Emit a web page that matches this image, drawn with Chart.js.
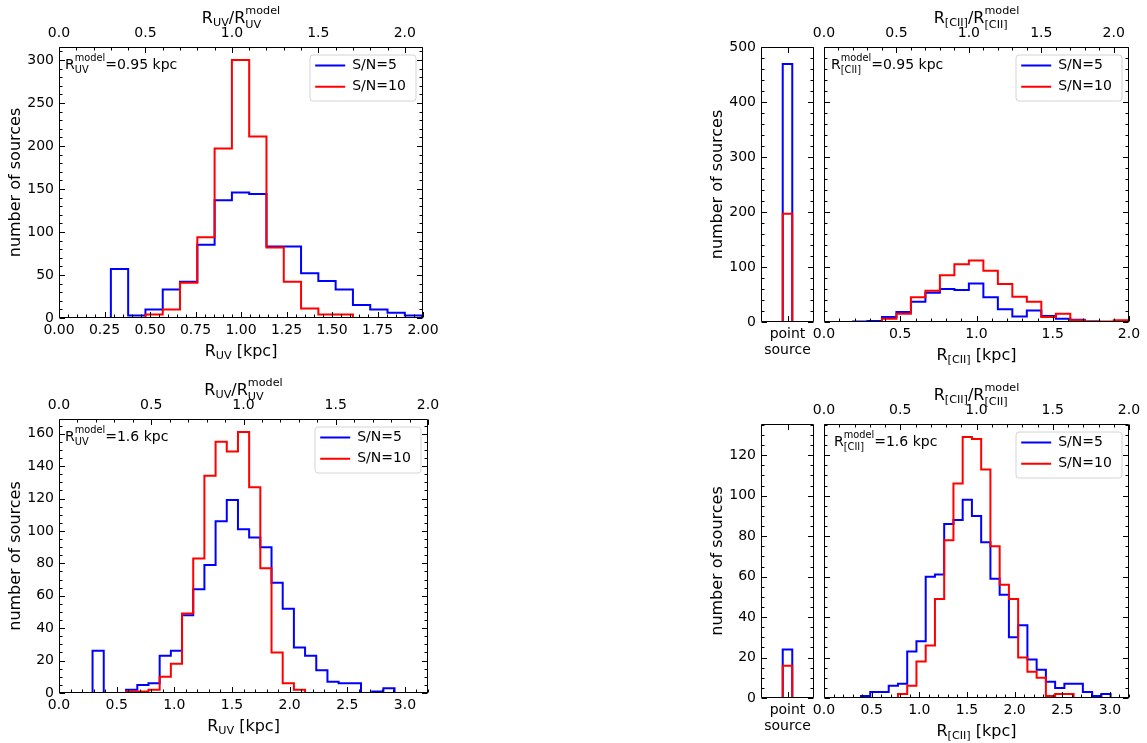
<!DOCTYPE html>
<html>
<head>
<meta charset="utf-8">
<title>Size distributions</title>
<script src="https://cdn.jsdelivr.net/npm/chart.js@4.4.1/dist/chart.umd.min.js"></script>
<style>
  html, body { margin: 0; padding: 0; background: #fff; }
  #fig { position: relative; width: 1147px; height: 743px; overflow: hidden; }
  #fig canvas { position: absolute; }
</style>
</head>
<body>
<div id="fig">
  <canvas id="uv095"></canvas>
  <canvas id="uv16"></canvas>
  <canvas id="ps095"></canvas>
  <canvas id="ps16"></canvas>
  <canvas id="cii095"></canvas>
  <canvas id="cii16"></canvas>
</div>
<script>
// bin edges [kpc]
const edges095 = [0.095, 0.19, 0.285, 0.38, 0.475, 0.57, 0.665, 0.76, 0.855, 0.95, 1.045,
  1.14, 1.235, 1.33, 1.425, 1.52, 1.615, 1.71, 1.805, 1.9, 1.995];
const edges16 = [0, 0.097, 0.194, 0.291, 0.388, 0.485, 0.582, 0.679, 0.776, 0.873, 0.97,
  1.067, 1.164, 1.261, 1.358, 1.455, 1.552, 1.649, 1.746, 1.843, 1.94, 2.037, 2.134, 2.231,
  2.328, 2.425, 2.522, 2.619, 2.716, 2.813, 2.91, 3.007, 3.104, 3.201, 3.298];
const edgesPoint = [0.41, 0.59, 0.76];

// counts per bin, R_model = 0.95 kpc
const uv095_sn5  = [0, 0, 57, 3, 10, 33, 42, 85, 137, 146, 144, 83, 83, 52, 43, 33, 15, 10, 6, 3];
const uv095_sn10 = [0, 0, 0, 0, 4, 10, 41, 94, 197, 300, 211, 82, 42, 11, 4, 4, 0, 0, 0, 0];
const cii095_sn5  = [0, 1, 2, 9, 18, 37, 53, 60, 58, 70, 45, 23, 10, 21, 11, 6, 4, 1, 0, 0];
const cii095_sn10 = [0, 0, 0, 6, 15, 45, 57, 85, 105, 112, 93, 69, 46, 37, 9, 15, 3, 1, 1, 3];
const ps095_sn5  = [469, 0];
const ps095_sn10 = [197, 0];

// counts per bin, R_model = 1.6 kpc
const uv16_sn5  = [0, 0, 0, 26, 0, 0, 2, 5, 6, 23, 26, 48, 64, 79, 106, 119, 101, 96, 90, 68,
  52, 28, 23, 14, 7, 6, 6, 0, 1, 3, 0, 0, 0, 0];
const uv16_sn10 = [0, 0, 0, 0, 0, 0, 1, 1, 2, 10, 18, 49, 83, 134, 155, 149, 161, 127, 77, 25,
  6, 2, 0, 0, 0, 0, 0, 0, 0, 0, 0, 0, 0, 0];
const cii16_sn5  = [0, 0, 0, 1, 3, 3, 6, 7, 23, 28, 60, 61, 86, 88, 98, 90, 77, 59, 51, 30,
  36, 19, 14, 8, 5, 7, 7, 3, 1, 2, 0, 0, 0];
const cii16_sn10 = [0, 0, 0, 0, 0, 0, 0, 2, 6, 18, 26, 49, 78, 106, 129, 128, 113, 75, 56, 49,
  20, 13, 10, 1, 2, 2, 0, 0, 0, 0, 0, 0, 0];
const ps16_sn5  = [24, 0];
const ps16_sn10 = [16, 0];

const seriesLabels = ["S/N=5", "S/N=10"];

Chart.defaults.font.family = "'DejaVu Sans', sans-serif";
Chart.defaults.font.size = 14;
Chart.defaults.color = "#000";

const BLUE = "#0000ff";
const RED = "#ff0000";

// outline of a step histogram
function stepPoints(edges, counts) {
  const pts = [{ x: edges[0], y: 0 }];
  counts.forEach((c, i) => pts.push({ x: edges[i], y: c }));
  pts.push({ x: edges[counts.length], y: 0 });
  return pts;
}

function tickSet(scale, minorStep) {
  const major = scale.ticks.map(t => t.value);
  const minor = [];
  if (minorStep) {
    const k0 = Math.ceil(scale.min / minorStep - 1e-6);
    const k1 = Math.floor(scale.max / minorStep + 1e-6);
    for (let k = k0; k <= k1; k++) {
      const v = k * minorStep;
      if (!major.some(m => Math.abs(m - v) < minorStep / 4)) minor.push(v);
    }
  }
  return { major, minor };
}

// text with sub/superscripts: parts are strings or {sub, sup}
function drawMath(ctx, parts, x, y, size, align) {
  const small = size * 0.7;
  const font = s => s + "px 'DejaVu Sans', sans-serif";
  const widths = parts.map(p => {
    if (typeof p === "string") { ctx.font = font(size); return ctx.measureText(p).width; }
    ctx.font = font(small);
    return Math.max(p.sub ? ctx.measureText(p.sub).width : 0, p.sup ? ctx.measureText(p.sup).width : 0);
  });
  const total = widths.reduce((a, b) => a + b, 0);
  let cx = align === "center" ? x - total / 2 : x;
  ctx.save();
  ctx.fillStyle = "#000";
  ctx.textAlign = "left";
  ctx.textBaseline = "alphabetic";
  parts.forEach((p, i) => {
    if (typeof p === "string") {
      ctx.font = font(size);
      ctx.fillText(p, cx, y);
    } else {
      ctx.font = font(small);
      if (p.sup) ctx.fillText(p.sup, cx, y - size * 0.55);
      if (p.sub) ctx.fillText(p.sub, cx, y + size * (p.sup ? 0.3 : 0.17));
    }
    cx += widths[i];
  });
  ctx.restore();
}

function decor(cfg) {
  const LW = 106, LH = 46, LM = 7.5;
  return {
    id: "decor",
    afterLayout(chart) {
      const lg = chart.legend;
      if (!cfg.legend || !lg) return;
      const a = chart.chartArea;
      lg.left = a.right - LM - LW - 1.5;
      lg.top = a.top + LM - 3.2;
      lg.width = LW + 20;
      lg.right = lg.left + lg.width;
      lg.height = LH + 20;
      lg.bottom = lg.top + lg.height;
    },
    beforeDraw(chart) {
      if (!cfg.legend) return;
      const a = chart.chartArea, ctx = chart.ctx;
      ctx.save();
      ctx.beginPath();
      ctx.roundRect(a.right - LM - LW + 0.5, a.top + LM + 0.5, LW, LH, 3);
      ctx.fillStyle = "rgba(255,255,255,0.8)";
      ctx.fill();
      ctx.strokeStyle = "#d4d4d4";
      ctx.lineWidth = 1;
      ctx.stroke();
      ctx.restore();
    },
    afterDatasetsDraw(chart) {
      const { ctx, chartArea: a, scales } = chart;
      const L = Math.round(a.left) + 0.5, R = Math.round(a.right) - 0.5;
      const T = Math.round(a.top) + 0.5, B = Math.round(a.bottom) - 0.5;
      const big = 5.5, small = 3;
      const xs = tickSet(scales.x, cfg.xMinor);
      const topScale = scales.x2 || scales.x;
      const ts = scales.x2 ? tickSet(scales.x2, 0.1) : xs;
      const ys = tickSet(scales.y, cfg.yMinor);
      ctx.save();
      ctx.strokeStyle = "#000";
      ctx.lineWidth = 1;
      ctx.beginPath();
      ctx.rect(L, T, R - L, B - T);
      const hx = (sc, vals, y0, dir, len) => vals.forEach(v => {
        const p = Math.round(sc.getPixelForValue(v)) + 0.5;
        ctx.moveTo(p, y0); ctx.lineTo(p, y0 + dir * len);
      });
      const vy = (vals, x0, dir, len) => vals.forEach(v => {
        const p = Math.round(scales.y.getPixelForValue(v)) + 0.5;
        ctx.moveTo(x0, p); ctx.lineTo(x0 + dir * len, p);
      });
      hx(scales.x, xs.major, B, -1, big); hx(scales.x, xs.minor, B, -1, small);
      hx(topScale, ts.major, T, 1, big); hx(topScale, ts.minor, T, 1, small);
      vy(ys.major, L, 1, big); vy(ys.minor, L, 1, small);
      vy(ys.major, R, -1, big); vy(ys.minor, R, -1, small);
      ctx.stroke();
      ctx.restore();
    },
    afterDraw(chart) {
      const a = chart.chartArea, ctx = chart.ctx;
      const cx = (a.left + a.right) / 2;
      if (cfg.xTitle) drawMath(ctx, cfg.xTitle, cx, a.bottom + 38, 16, "center");
      if (cfg.topTitle) drawMath(ctx, cfg.topTitle, cx, a.top - 24, 16, "center");
      if (cfg.note) drawMath(ctx, cfg.note, a.left + cfg.noteDx, a.top + 22, 14, "left");
    }
  };
}

function makePanel(cfg) {
  const cv = document.getElementById(cfg.id);
  cv.width = cfg.box[2];
  cv.height = cfg.box[3];
  cv.style.left = cfg.box[0] + "px";
  cv.style.top = cfg.box[1] + "px";

  const line = { borderWidth: 2, pointRadius: 0, stepped: "before", fill: false, tension: 0 };
  const scales = {
    x: {
      type: "linear", min: 0, max: cfg.xMax,
      grid: { display: false, drawTicks: false }, border: { display: false },
      ticks: { stepSize: cfg.xStep, includeBounds: false, autoSkip: false, maxRotation: 0,
        padding: 4, callback: v => Number(v).toFixed(cfg.xDec) },
      afterFit: s => { s.height = cfg.xH; }
    },
    y: {
      type: "linear", min: 0, max: cfg.yMax,
      grid: { display: false, drawTicks: false }, border: { display: false },
      ticks: { display: cfg.yLabels, stepSize: cfg.yStep, includeBounds: false, padding: 5,
        callback: v => String(Math.round(v)) },
      title: { display: cfg.yLabels, text: "number of sources", font: { size: 16 },
        padding: { top: cfg.yTitlePad || 0, bottom: 0 } },
      afterFit: s => { s.width = cfg.yW; }
    }
  };
  if (cfg.point) {
    scales.x.afterBuildTicks = s => { s.ticks = [{ value: 0.5 }]; };
    scales.x.ticks.callback = () => ["point", "source"];
    scales.x.ticks.font = { size: 14, lineHeight: 1.15 };
  } else {
    scales.x2 = {
      type: "linear", position: "top", min: 0, max: cfg.xMax / cfg.rModel,
      grid: { display: false, drawTicks: false }, border: { display: false },
      ticks: { stepSize: 0.5, includeBounds: false, autoSkip: false, maxRotation: 0,
        padding: 5.6, callback: v => Number(v).toFixed(1) },
      afterFit: s => { s.height = cfg.topH; }
    };
  }

  new Chart(cv, {
    type: "line",
    data: {
      datasets: [
        Object.assign({ label: seriesLabels[0], data: stepPoints(cfg.edges, cfg.sn5),
          borderColor: BLUE, order: 1 }, line),
        Object.assign({ label: seriesLabels[1], data: stepPoints(cfg.edges, cfg.sn10),
          borderColor: RED, order: 0 }, line)
      ]
    },
    options: {
      responsive: false,
      animation: false,
      events: [],
      layout: { padding: { left: 0, right: cfg.padR, top: cfg.point ? cfg.topH : 0, bottom: 0 } },
      scales: scales,
      plugins: {
        tooltip: { enabled: false },
        legend: {
          display: !!cfg.legend,
          position: "chartArea",
          align: "start",
          labels: {
            font: { size: 14 }, color: "#000",
            usePointStyle: true, pointStyle: "line", pointStyleWidth: 30, padding: 7.2,
            sort: (p, q) => p.datasetIndex - q.datasetIndex
          }
        }
      }
    },
    plugins: [decor(cfg)]
  });
}

const subUV = { sub: "UV" }, subCII = { sub: "[CII]" };

makePanel({
  id: "uv095", box: [0, 0, 450, 370], yW: 59, topH: 47, xH: 52, padR: 27,
  xMax: 2.0, xStep: 0.25, xDec: 2, xMinor: 0.05, rModel: 0.95,
  yMax: 315, yStep: 50, yMinor: 10, yLabels: true, yTitlePad: 6.4,
  edges: edges095, sn5: uv095_sn5, sn10: uv095_sn10, legend: true,
  xTitle: ["R", subUV, " [kpc]"],
  topTitle: ["R", subUV, "/R", { sub: "UV", sup: "model" }],
  note: ["R", { sub: "UV", sup: "model" }, "=0.95 kpc"], noteDx: 6
});

makePanel({
  id: "uv16", box: [0, 370, 450, 373], yW: 59, topH: 49, xH: 50, padR: 22,
  xMax: 3.2, xStep: 0.5, xDec: 1, xMinor: 0.1, rModel: 1.6,
  yMax: 169.05, yStep: 20, yMinor: 5, yLabels: true, yTitlePad: 6.4,
  edges: edges16, sn5: uv16_sn5, sn10: uv16_sn10, legend: true,
  xTitle: ["R", subUV, " [kpc]"],
  topTitle: ["R", subUV, "/R", { sub: "UV", sup: "model" }],
  note: ["R", { sub: "UV", sup: "model" }, "=1.6 kpc"], noteDx: 6
});

makePanel({
  id: "ps095", point: true, box: [690, 0, 128, 370], yW: 71, topH: 47, xH: 48, padR: 4,
  xMax: 1, xMinor: 0, yMax: 500, yStep: 100, yMinor: 20, yLabels: true, yTitlePad: 17.9,
  edges: edgesPoint, sn5: ps095_sn5, sn10: ps095_sn10
});

makePanel({
  id: "ps16", point: true, box: [690, 370, 128, 373], yW: 71, topH: 54, xH: 45, padR: 4,
  xMax: 1, xMinor: 0, yMax: 135.45, yStep: 20, yMinor: 5, yLabels: true, yTitlePad: 17.9,
  edges: edgesPoint, sn5: ps16_sn5, sn10: ps16_sn10
});

makePanel({
  id: "cii095", box: [784, 0, 363, 370], yW: 40, topH: 47, xH: 48, padR: 18,
  xMax: 2.0, xStep: 0.5, xDec: 1, xMinor: 0.1, rModel: 0.95,
  yMax: 500, yStep: 100, yMinor: 20, yLabels: false,
  edges: edges095, sn5: cii095_sn5, sn10: cii095_sn10, legend: true,
  xTitle: ["R", subCII, " [kpc]"],
  topTitle: ["R", subCII, "/R", { sub: "[CII]", sup: "model" }],
  note: ["R", { sub: "[CII]", sup: "model" }, "=0.95 kpc"], noteDx: 7
});

makePanel({
  id: "cii16", box: [784, 370, 363, 373], yW: 40, topH: 54, xH: 45, padR: 18,
  xMax: 3.2, xStep: 0.5, xDec: 1, xMinor: 0.1, rModel: 1.6,
  yMax: 135.45, yStep: 20, yMinor: 5, yLabels: false,
  edges: edges16.slice(1), sn5: cii16_sn5, sn10: cii16_sn10, legend: true,
  xTitle: ["R", subCII, " [kpc]"],
  topTitle: ["R", subCII, "/R", { sub: "[CII]", sup: "model" }],
  note: ["R", { sub: "[CII]", sup: "model" }, "=1.6 kpc"], noteDx: 10
});
</script>
</body>
</html>
